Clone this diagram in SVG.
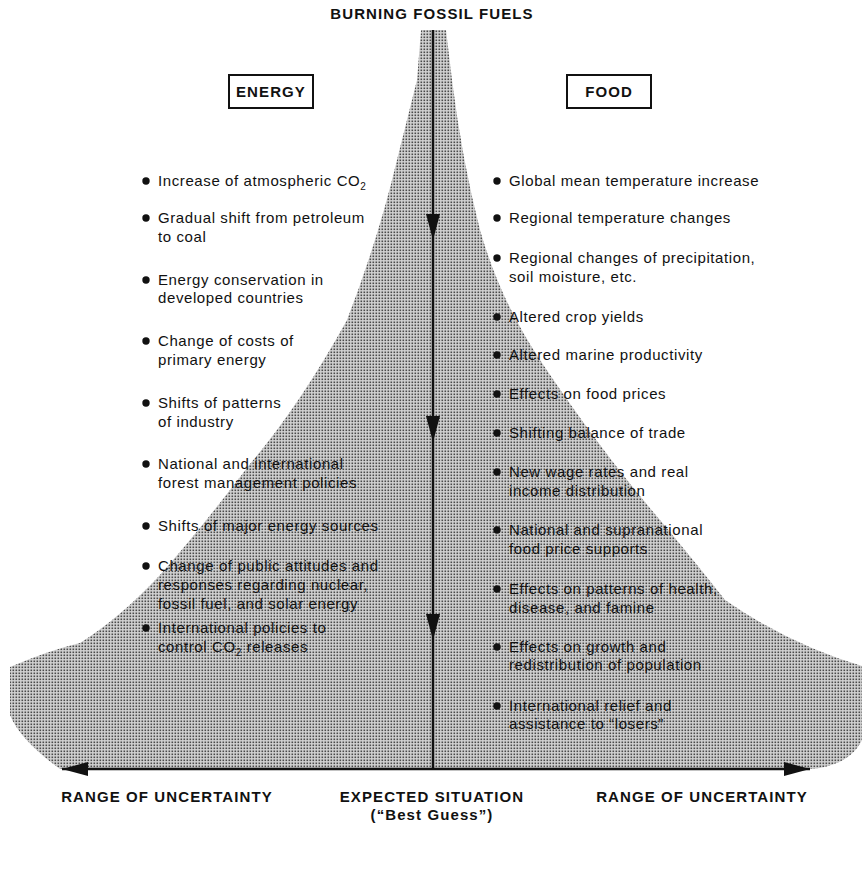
<svg xmlns="http://www.w3.org/2000/svg" width="868" height="876" viewBox="0 0 868 876">
<style>
  .t { font-family: "Liberation Sans", Arial, sans-serif; font-size: 15px; letter-spacing: 0.6px; fill: #111; }
  .cap { font-family: "Liberation Sans", Arial, sans-serif; font-size: 15px; font-weight: bold; letter-spacing: 1.1px; fill: #111; }
  .box { fill: #fff; stroke: #111; stroke-width: 2; }
  .line { stroke: #111; stroke-width: 2.5; fill: none; }
  .head { fill: #111; }
  .dot { fill: #111; }
</style>
<defs>
  <pattern id="stip" patternUnits="userSpaceOnUse" width="3" height="3">
    <rect width="3" height="3" fill="#d2d2d2"/>
    <rect x="0.5" y="0.5" width="1.6" height="1.6" fill="#4a4a4a"/>
  </pattern>
  <marker id="ah" viewBox="0 0 26 14" refX="26" refY="7" markerWidth="26" markerHeight="14" markerUnits="userSpaceOnUse" orient="auto-start-reverse">
    <path d="M0,0 L26,7 L0,14 Z" fill="#111"/>
  </marker>
</defs>
<rect width="868" height="876" fill="#fff"/>

<g id="funnel">
  <path fill="url(#stip)" d="M421,30 L446,30 L452,80 Q462,160 480,230 Q500,300 540,360 Q600,450 660,520 Q700,568 725,600 Q790,645 862,666 L862,740 Q850,765 812,769 L60,769 Q20,740 10,715 L10,667 Q50,650 80,643 Q120,618 160,575 Q200,530 250,464 Q300,405 347,320 Q378,240 397,160 Q412,100 417,80 Z"/>
</g>

<g id="title">
  <text class="cap" x="432" y="19" text-anchor="middle">BURNING FOSSIL FUELS</text>
</g>

<g id="energy-box">
  <rect class="box" x="229" y="75" width="84" height="33"/>
  <text class="cap" x="271" y="97" text-anchor="middle" letter-spacing="0.8">ENERGY</text>
</g>
<g id="food-box">
  <rect class="box" x="567" y="75" width="84" height="33"/>
  <text class="cap" x="609" y="97" text-anchor="middle" letter-spacing="0.8">FOOD</text>
</g>

<g id="connectors">
  <line class="line" x1="433" y1="30" x2="433" y2="769"/>
  <polygon class="head" points="426,214 440,214 433,240"/>
  <polygon class="head" points="426,416 440,416 433,442"/>
  <polygon class="head" points="426,614 440,614 433,640"/>
  <line class="line" x1="62" y1="769" x2="810" y2="769" marker-start="url(#ah)" marker-end="url(#ah)"/>
</g>

<g id="energy-list">
  <circle class="dot" cx="146" cy="181" r="3.7"/>
  <text class="t" x="158" y="186">Increase of atmospheric CO<tspan font-size="10" dy="4">2</tspan></text>
  <circle class="dot" cx="146" cy="218" r="3.7"/>
  <text class="t" x="158" y="223">Gradual shift from petroleum</text>
  <text class="t" x="158" y="242">to coal</text>
  <circle class="dot" cx="146" cy="280" r="3.7"/>
  <text class="t" x="158" y="285">Energy conservation in</text>
  <text class="t" x="158" y="303">developed countries</text>
  <circle class="dot" cx="146" cy="341" r="3.7"/>
  <text class="t" x="158" y="346">Change of costs of</text>
  <text class="t" x="158" y="365">primary energy</text>
  <circle class="dot" cx="146" cy="403" r="3.7"/>
  <text class="t" x="158" y="408">Shifts of patterns</text>
  <text class="t" x="158" y="427">of industry</text>
  <circle class="dot" cx="146" cy="464" r="3.7"/>
  <text class="t" x="158" y="469">National and international</text>
  <text class="t" x="158" y="488">forest management policies</text>
  <circle class="dot" cx="146" cy="526" r="3.7"/>
  <text class="t" x="158" y="531">Shifts of major energy sources</text>
  <circle class="dot" cx="146" cy="566" r="3.7"/>
  <text class="t" x="158" y="571">Change of public attitudes and</text>
  <text class="t" x="158" y="590">responses regarding nuclear,</text>
  <text class="t" x="158" y="609">fossil fuel, and solar energy</text>
  <circle class="dot" cx="146" cy="628" r="3.7"/>
  <text class="t" x="158" y="633">International policies to</text>
  <text class="t" x="158" y="652">control CO<tspan font-size="10" dy="4">2</tspan><tspan dy="-4"> releases</tspan></text>
</g>

<g id="food-list">
  <circle class="dot" cx="497" cy="181" r="3.7"/>
  <text class="t" x="509" y="186">Global mean temperature increase</text>
  <circle class="dot" cx="497" cy="218" r="3.7"/>
  <text class="t" x="509" y="223">Regional temperature changes</text>
  <circle class="dot" cx="497" cy="258" r="3.7"/>
  <text class="t" x="509" y="263">Regional changes of precipitation,</text>
  <text class="t" x="509" y="282">soil moisture, etc.</text>
  <circle class="dot" cx="497" cy="317" r="3.7"/>
  <text class="t" x="509" y="322">Altered crop yields</text>
  <circle class="dot" cx="497" cy="355" r="3.7"/>
  <text class="t" x="509" y="360">Altered marine productivity</text>
  <circle class="dot" cx="497" cy="394" r="3.7"/>
  <text class="t" x="509" y="399">Effects on food prices</text>
  <circle class="dot" cx="497" cy="433" r="3.7"/>
  <text class="t" x="509" y="438">Shifting balance of trade</text>
  <circle class="dot" cx="497" cy="472" r="3.7"/>
  <text class="t" x="509" y="477">New wage rates and real</text>
  <text class="t" x="509" y="496">income distribution</text>
  <circle class="dot" cx="497" cy="530" r="3.7"/>
  <text class="t" x="509" y="535">National and supranational</text>
  <text class="t" x="509" y="554">food price supports</text>
  <circle class="dot" cx="497" cy="589" r="3.7"/>
  <text class="t" x="509" y="594">Effects on patterns of health,</text>
  <text class="t" x="509" y="613">disease, and famine</text>
  <circle class="dot" cx="497" cy="647" r="3.7"/>
  <text class="t" x="509" y="652">Effects on growth and</text>
  <text class="t" x="509" y="670">redistribution of population</text>
  <circle class="dot" cx="497" cy="706" r="3.7"/>
  <text class="t" x="509" y="711">International relief and</text>
  <text class="t" x="509" y="729">assistance to “losers”</text>
</g>

<g id="bottom-labels">
  <text class="cap" x="167" y="802" text-anchor="middle">RANGE OF UNCERTAINTY</text>
  <text class="cap" x="432" y="802" text-anchor="middle" letter-spacing="0.7">EXPECTED SITUATION</text>
  <text class="cap" x="432" y="820" text-anchor="middle" font-weight="normal" letter-spacing="0.5">(“Best Guess”)</text>
  <text class="cap" x="702" y="802" text-anchor="middle">RANGE OF UNCERTAINTY</text>
</g>
</svg>
